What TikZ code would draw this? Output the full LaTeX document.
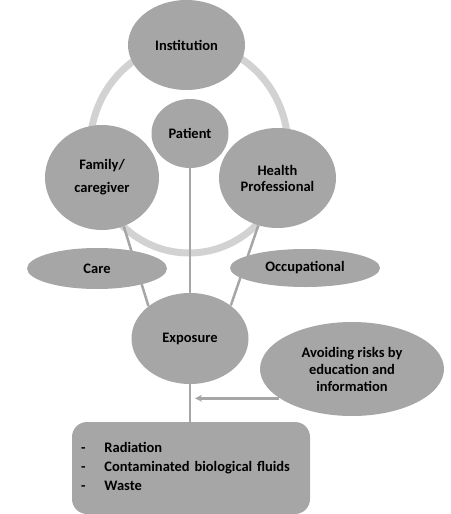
\documentclass[tikz,border=0pt]{standalone}
\usepackage{fontspec}
\setmainfont{Carlito}
\newfontfamily\listfont{Carlito}[WordSpace=2]
\usetikzlibrary{shapes.geometric,backgrounds,arrows.meta}

\definecolor{bubblegrey}{RGB}{166,166,166}
\definecolor{ringgrey}{RGB}{210,210,210}
\definecolor{linegrey}{RGB}{166,166,166}

\tikzset{every picture/.style={line width=0.75pt}}
\tikzset{
  bubble/.style={ellipse, fill=bubblegrey, inner sep=0pt, align=center, font=\fontsize{14.5}{17}\selectfont\bfseries},
  link/.style={draw=linegrey, line width=2.5pt},
  ring/.style={draw=ringgrey, line width=7pt},
}

\begin{document}
\begin{tikzpicture}[x=1pt,y=1pt,yscale=-1,xscale=1]
        \useasboundingbox (0,0) rectangle (450,514);

        %Shape: Ellipse
        \node [bubble, minimum width=117, minimum height=90] (inst) at (186.5,45) {Institution};
        %Shape: Ellipse
        \node [bubble, minimum width=77, minimum height=69] (pat) at (190,133.5) {Patient};
        %Shape: Ellipse
        \node [bubble, minimum width=114, minimum height=105] (fam) at (102,177.5) {Family/\\[6pt]caregiver};
        %Shape: Ellipse
        \node [bubble, minimum width=117, minimum height=100] (hp) at (277.5,178) {Health\\[-1pt]Professional};
        %Shape: Ellipse
        \node [bubble, minimum width=140, minimum height=41] (care) at (97,268.5) {Care};
        %Shape: Ellipse
        \node [bubble, minimum width=150, minimum height=38] (occ) at (305,268) {Occupational};
        %Shape: Ellipse
        \node [bubble, minimum width=117, minimum height=91] (expo) at (190,338.5) {Exposure};
        %Shape: Ellipse
        \node [bubble, minimum width=184, minimum height=94] (avoid) at (352,369) {Avoiding risks by\\education and\\information};
        %Rounded Rect
        \node [rectangle, rounded corners=15, fill=bubblegrey, minimum width=238, minimum height=92, text width=220, inner xsep=9, align=left, font=\fontsize{14.5}{19}\selectfont\listfont\bfseries] (box) at (191,468)
          {\begin{tabular}{@{}l@{\hspace{19pt}}l@{}}-&Radiation\\-&Contaminated biological fluids\\-&Waste\end{tabular}};

        \coordinate (tip) at (195,397);

        \begin{pgfonlayer}{background}
        %Shape: Circle
        \draw [ring] (189,148) ellipse [x radius=99, y radius=105];
        %Straight Lines
        \draw [link] (pat) -- (expo);
        %Straight Lines
        \draw [link] (fam.-66) -- (expo.142);
        %Straight Lines
        \draw [link] (hp.-112) -- (expo.39);
        %Straight Lines
        \draw [link] (expo) -- (expo |- box.north);
        %Straight Lines
        \draw [link, -{Stealth[length=7pt,width=7pt]}] (avoid.-158) -- (avoid.-158 -| tip);
        \end{pgfonlayer}

    \end{tikzpicture}
\end{document}
